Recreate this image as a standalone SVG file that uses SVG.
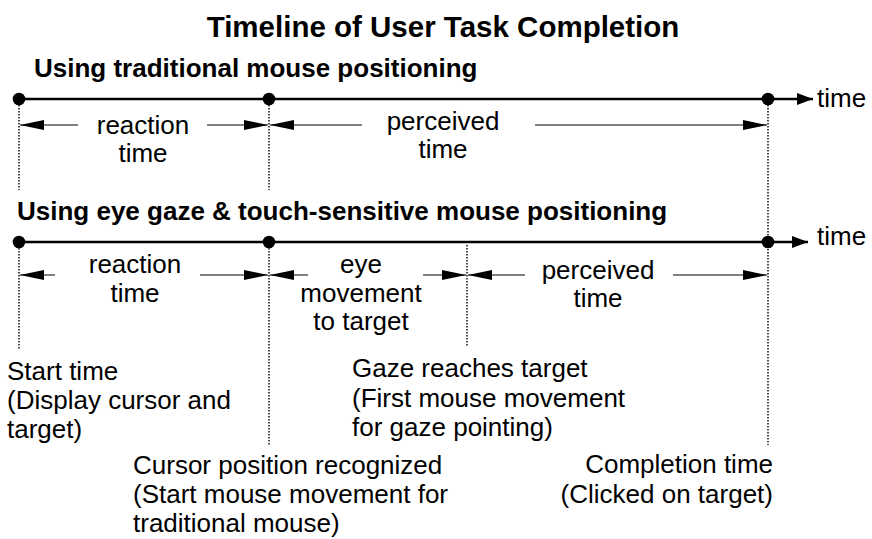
<svg xmlns="http://www.w3.org/2000/svg" width="872" height="539" viewBox="0 0 872 539">
<defs>
<style>
text{font-family:"Liberation Sans",Arial,Helvetica,sans-serif;fill:#000}
.title{font-size:29.5px;font-weight:bold;text-anchor:middle}
.sub{font-size:26px;font-weight:bold}
.lbl{font-size:26px}
.mid{text-anchor:middle}
.end{text-anchor:end}
.axis{stroke:#000;stroke-width:2.6;fill:none}
.dim{stroke:#000;stroke-width:1;fill:none;marker-end:url(#dimhead)}
.dot{stroke:#000;stroke-width:1.4;stroke-dasharray:1.4 1.6;fill:none}
</style>
<marker id="dimhead" markerUnits="userSpaceOnUse" markerWidth="25" markerHeight="11" refX="24" refY="5.5" orient="auto">
<path d="M0,0.5 L24,5.5 L0,10.5 z" fill="#000"/>
</marker>
<marker id="axhead" markerUnits="userSpaceOnUse" markerWidth="17" markerHeight="14" refX="16" refY="7" orient="auto">
<path d="M0,1 L16,7 L0,13 z" fill="#000"/>
</marker>
</defs>
<rect width="872" height="539" fill="#fff"/>
<text class="title" x="443" y="37">Timeline of User Task Completion</text>
<text class="sub" x="34" y="77">Using traditional mouse positioning</text>
<text class="sub" x="17" y="220">Using eye gaze &amp; touch-sensitive mouse positioning</text>
<g id="connectors">
<line class="axis" x1="19" y1="99" x2="813" y2="99" marker-end="url(#axhead)"/>
<line class="axis" x1="19" y1="242" x2="808" y2="242" marker-end="url(#axhead)"/>
<line class="dot" x1="19" y1="99" x2="19" y2="190"/>
<line class="dot" x1="269" y1="99" x2="269" y2="190"/>
<line class="dot" x1="768" y1="99" x2="768" y2="445"/>
<line class="dot" x1="19" y1="242" x2="19" y2="350"/>
<line class="dot" x1="269" y1="242" x2="269" y2="445"/>
<line class="dot" x1="467" y1="245" x2="467" y2="347"/>
<line class="dim" x1="78" y1="125" x2="20" y2="125"/>
<line class="dim" x1="207" y1="125" x2="268" y2="125"/>
<line class="dim" x1="362" y1="125" x2="270" y2="125"/>
<line class="dim" x1="535" y1="125" x2="767" y2="125"/>
<line class="dim" x1="55" y1="275" x2="20" y2="275"/>
<line class="dim" x1="200" y1="275" x2="268" y2="275"/>
<line class="dim" x1="308" y1="275" x2="270" y2="275"/>
<line class="dim" x1="423" y1="275" x2="466" y2="275"/>
<line class="dim" x1="525" y1="275" x2="468" y2="275"/>
<line class="dim" x1="673" y1="275" x2="767" y2="275"/>
</g>
<g id="start1"><circle cx="19" cy="99" r="6.3"/></g>
<g id="cursor1"><circle cx="269" cy="99" r="6.3"/></g>
<g id="complete1"><circle cx="768" cy="99" r="6.3"/></g>
<g id="start2"><circle cx="19" cy="242" r="6.3"/></g>
<g id="cursor2"><circle cx="269" cy="242" r="6.3"/></g>
<g id="complete2"><circle cx="768" cy="242" r="6.3"/></g>
<g id="time1"><text class="lbl" x="817" y="107">time</text></g>
<g id="time2"><text class="lbl" x="817" y="245">time</text></g>
<g id="reaction1"><text class="lbl mid" x="143" y="134">reaction</text><text class="lbl mid" x="143" y="162">time</text></g>
<g id="perceived1"><text class="lbl mid" x="443" y="130">perceived</text><text class="lbl mid" x="443" y="158">time</text></g>
<g id="reaction2"><text class="lbl mid" x="135" y="273">reaction</text><text class="lbl mid" x="135" y="302">time</text></g>
<g id="eye2"><text class="lbl mid" x="361" y="273">eye</text><text class="lbl mid" x="361" y="302">movement</text><text class="lbl mid" x="361" y="330">to target</text></g>
<g id="perceived2"><text class="lbl mid" x="598" y="279">perceived</text><text class="lbl mid" x="598" y="307">time</text></g>
<g id="startlabel"><text class="lbl" x="7" y="380">Start time</text><text class="lbl" x="7" y="409">(Display cursor and</text><text class="lbl" x="7" y="438">target)</text></g>
<g id="cursorlabel"><text class="lbl" x="133" y="474">Cursor position recognized</text><text class="lbl" x="133" y="503">(Start mouse movement for</text><text class="lbl" x="133" y="532">traditional mouse)</text></g>
<g id="gazelabel"><text class="lbl" x="352" y="377">Gaze reaches target</text><text class="lbl" x="352" y="407">(First mouse movement</text><text class="lbl" x="352" y="436">for gaze pointing)</text></g>
<g id="completionlabel"><text class="lbl end" x="773" y="473">Completion time</text><text class="lbl end" x="773" y="503">(Clicked on target)</text></g>
</svg>
